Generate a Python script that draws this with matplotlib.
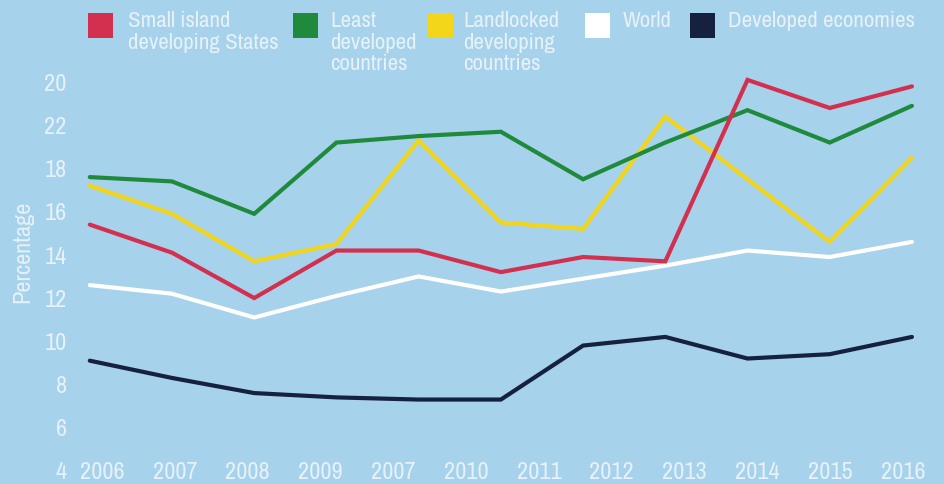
import numpy as np
import matplotlib
matplotlib.use("Agg")
import matplotlib.pyplot as plt
from matplotlib.patches import Rectangle

# Series values (percentage), one point per period
sids = [15.5, 14.2, 12.1, 14.3, 14.3, 13.3, 14.0, 13.8, 22.2, 20.9, 21.9]
ldc = [17.7, 17.5, 16.0, 19.3, 19.6, 19.8, 17.6, 19.3, 20.8, 19.3, 21.0]
lldc = [17.3, 16.0, 13.8, 14.6, 19.4, 15.6, 15.3, 20.5, 17.6, 14.7, 18.6]
world = [12.7, 12.3, 11.2, 12.2, 13.1, 12.4, 13.0, 13.6, 14.3, 14.0, 14.7]
developed = [9.2, 8.4, 7.7, 7.5, 7.4, 7.4, 9.9, 10.3, 9.3, 9.5, 10.3]

series_names = ["Small island\ndeveloping States", "Least\ndeveloped\ncountries",
                "Landlocked\ndeveloping\ncountries", "World", "Developed economies"]
year_labels = ["2006", "2007", "2008", "2009", "2007", "2010",
               "2011", "2012", "2013", "2014", "2015", "2016"]
y_ticks = [4, 6, 8, 10, 12, 14, 16, 18, 20, 22]
y_tick_labels = ["4", "6", "8", "10", "12", "14", "16", "18", "22", "20"]

colors = ["#d3304f", "#1f8a3b", "#f3d619", "#ffffff", "#15213f"]
bg = "#a6d2eb"
txt = "#e6f1f8"
font = ["Archivo Narrow", "DejaVu Sans"]

fig = plt.figure(figsize=(9.44, 4.84), dpi=100, facecolor=bg)
W, H = 944, 484
ax = fig.add_axes([75 / W, 0, 1 - 75 / W, 1])
ax.set_facecolor(bg)
for s in ax.spines.values():
    s.set_visible(False)

x = np.arange(len(world))
data = [sids, ldc, lldc, world, developed]
for i in [3, 4, 2, 1, 0]:
    ax.plot(x, data[i], color=colors[i], lw=3.0, solid_joinstyle="miter",
            solid_capstyle="round", zorder=3)

ax.set_xlim(-0.18, 10.39)
ax.set_ylim(3.49, 25.9)
ax.set_yticks(y_ticks)
ax.set_yticklabels(y_tick_labels, fontfamily=font, fontsize=17.5, color=txt)
for t in ax.get_yticklabels():
    t.set_verticalalignment("center")
ax.tick_params(axis="y", length=0, pad=6)
ax.set_xticks([])

label_pos = np.linspace(0.15, 9.89, len(year_labels))
for p, lab in zip(label_pos, year_labels):
    ax.text(p, 4, lab, ha="center", va="center", fontfamily=font,
            fontsize=17.5, color=txt)

fig.text(23 / W, 1 - 252 / H, "Percentage", rotation=90, ha="center",
         va="center", fontfamily=font, fontsize=17.5, color=txt)

# legend row across the top
sq_x = [88, 293, 428, 585, 690]
tx_x = [128, 330, 463, 623, 728]
for i in range(5):
    fig.patches.append(Rectangle((sq_x[i] / W, 1 - 38 / H), 25 / W, 25 / H,
                                 transform=fig.transFigure,
                                 facecolor=colors[i], edgecolor="none"))
    fig.text(tx_x[i] / W, 1 - 11 / H, series_names[i], ha="left", va="top",
             fontfamily=font, fontsize=16.5, color=txt, linespacing=1.1)

fig.savefig("out.png", dpi=100, facecolor=bg)
